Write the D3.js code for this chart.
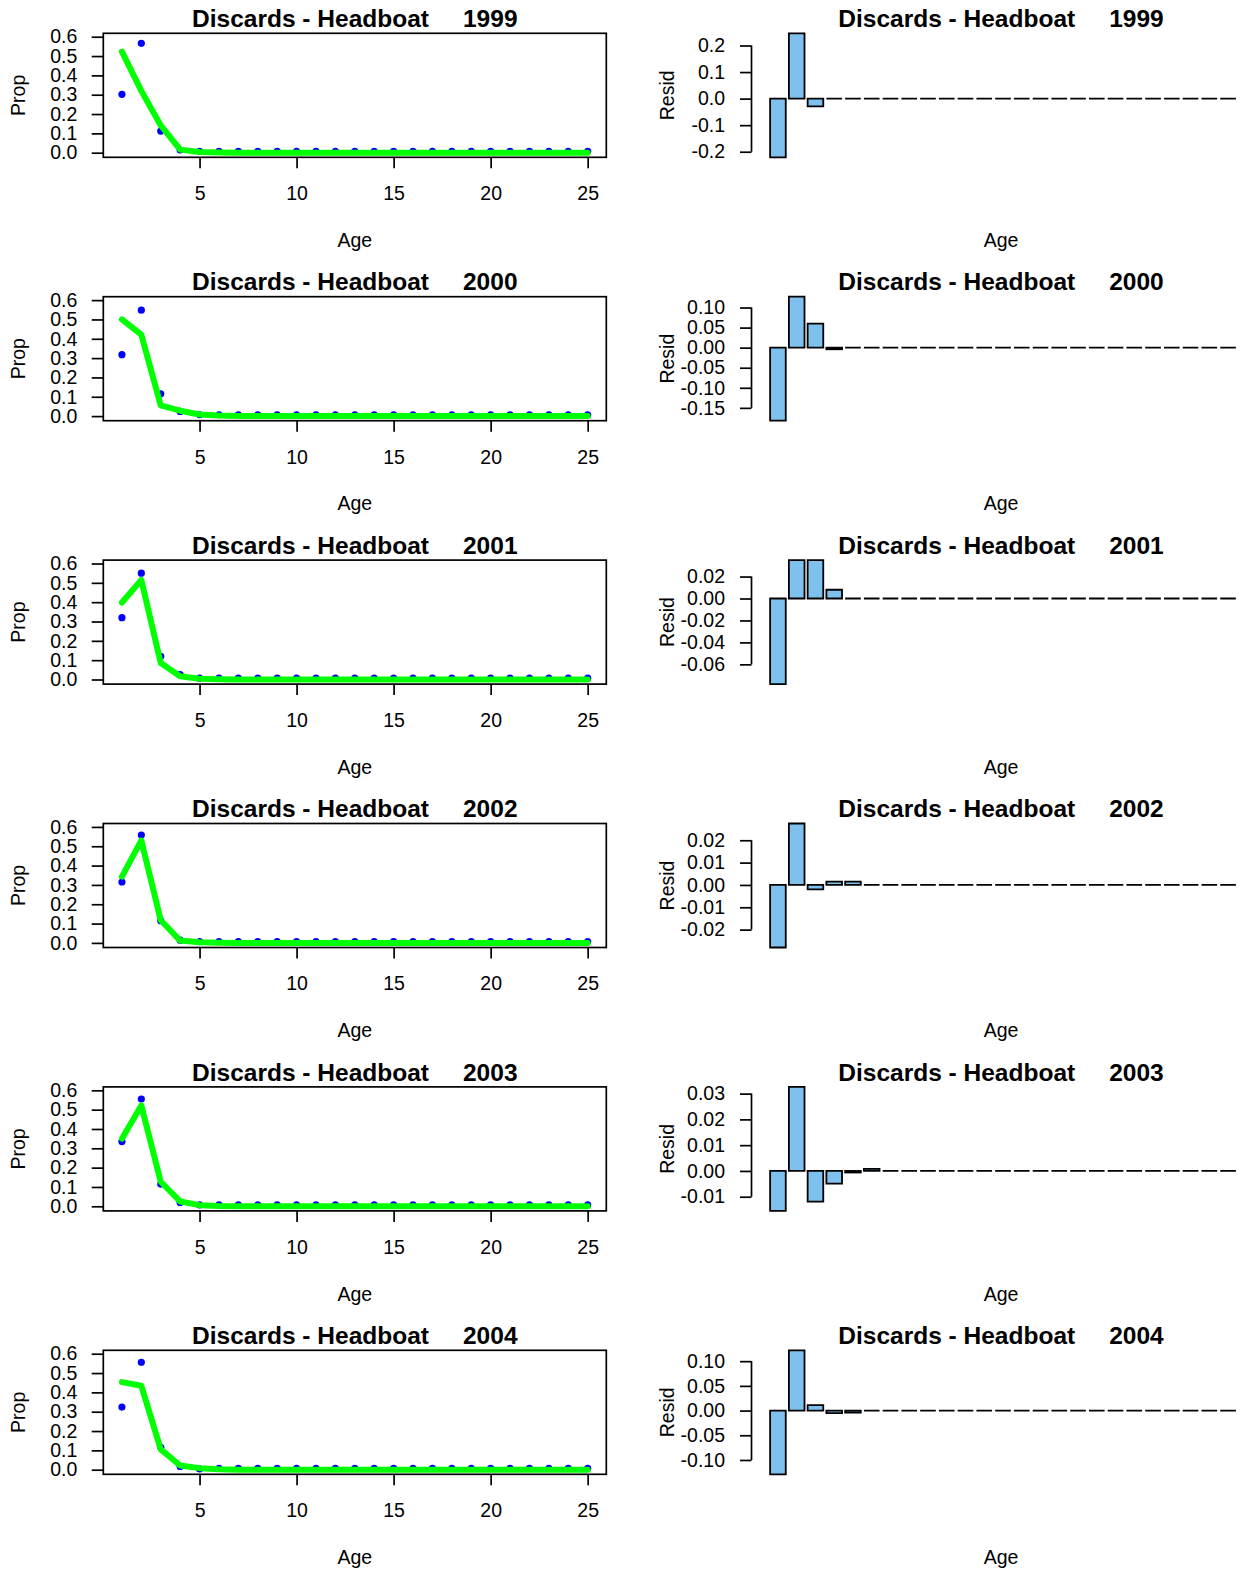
<!DOCTYPE html>
<html>
<head>
<meta charset="utf-8">
<script src="https://cdn.jsdelivr.net/npm/d3@7"></script>
<style>
  html, body { margin: 0; padding: 0; background: #ffffff; }
  svg { display: block; }
  text { font-family: "Liberation Sans", Arial, sans-serif; fill: #000; }
</style>
</head>
<body>
<svg id="chart" width="1240" height="1572"></svg>
<script>
// ---------------- data ----------------
const ages = [1,2,3,4,5,6,7,8,9,10,11,12,13,14,15,16,17,18,19,20,21,22,23,24,25];
const years = [1999, 2000, 2001, 2002, 2003, 2004];

const obs1999  = [0.302,0.566,0.112,0.014,0.007,0.007,0.007,0.007,0.007,0.007,0.007,0.007,0.007,0.007,0.007,0.007,0.007,0.007,0.007,0.007,0.007,0.007,0.007,0.007,0.007];
const pred1999 = [0.523,0.320,0.141,0.016,0.004,0.001,0,0,0,0,0,0,0,0,0,0,0,0,0,0,0,0,0,0,0];
const resid1999 = [-0.221,0.246,-0.029,0,0,0,0,0,0,0,0,0,0,0,0,0,0,0,0,0,0,0,0,0,0];

const obs2000  = [0.318,0.548,0.115,0.024,0.007,0.007,0.007,0.007,0.007,0.007,0.007,0.007,0.007,0.007,0.007,0.007,0.007,0.007,0.007,0.007,0.007,0.007,0.007,0.007,0.007];
const pred2000 = [0.500,0.421,0.055,0.028,0.008,0.003,0.001,0,0,0,0,0,0,0,0,0,0,0,0,0,0,0,0,0,0];
const resid2000 = [-0.182,0.127,0.060,-0.004,0,0,0,0,0,0,0,0,0,0,0,0,0,0,0,0,0,0,0,0,0];

const obs2001  = [0.320,0.550,0.120,0.025,0.007,0.007,0.007,0.007,0.007,0.007,0.007,0.007,0.007,0.007,0.007,0.007,0.007,0.007,0.007,0.007,0.007,0.007,0.007,0.007,0.007];
const pred2001 = [0.398,0.515,0.085,0.017,0.004,0.001,0,0,0,0,0,0,0,0,0,0,0,0,0,0,0,0,0,0,0];
const resid2001 = [-0.078,0.035,0.035,0.008,0,0,0,0,0,0,0,0,0,0,0,0,0,0,0,0,0,0,0,0,0];

const obs2002  = [0.315,0.558,0.115,0.014,0.007,0.007,0.007,0.007,0.007,0.007,0.007,0.007,0.007,0.007,0.007,0.007,0.007,0.007,0.007,0.007,0.007,0.007,0.007,0.007,0.007];
const pred2002 = [0.343,0.530,0.117,0.012,0.003,0.001,0,0,0,0,0,0,0,0,0,0,0,0,0,0,0,0,0,0,0];
const resid2002 = [-0.028,0.0275,-0.002,0.0015,0.0015,0,0,0,0,0,0,0,0,0,0,0,0,0,0,0,0,0,0,0,0];

const obs2003  = [0.335,0.555,0.115,0.020,0.007,0.007,0.007,0.007,0.007,0.007,0.007,0.007,0.007,0.007,0.007,0.007,0.007,0.007,0.007,0.007,0.007,0.007,0.007,0.007,0.007];
const pred2003 = [0.350,0.522,0.127,0.025,0.006,0.001,0,0,0,0,0,0,0,0,0,0,0,0,0,0,0,0,0,0,0];
const resid2003 = [-0.0155,0.0326,-0.0119,-0.0049,-0.0006,0.0008,0,0,0,0,0,0,0,0,0,0,0,0,0,0,0,0,0,0,0];

const obs2004  = [0.324,0.556,0.116,0.017,0.004,0.007,0.007,0.007,0.007,0.007,0.007,0.007,0.007,0.007,0.007,0.007,0.007,0.007,0.007,0.007,0.007,0.007,0.007,0.007,0.007];
const pred2004 = [0.453,0.434,0.105,0.022,0.008,0.002,0,0,0,0,0,0,0,0,0,0,0,0,0,0,0,0,0,0,0];
const resid2004 = [-0.129,0.122,0.011,-0.005,-0.004,0,0,0,0,0,0,0,0,0,0,0,0,0,0,0,0,0,0,0,0];

const propTicks = ["0.0","0.1","0.2","0.3","0.4","0.5","0.6"];
const ageTicks = ["5","10","15","20","25"];
const residTicks1999 = ["-0.2","-0.1","0.0","0.1","0.2"];
const residTicks2000 = ["-0.15","-0.10","-0.05","0.00","0.05","0.10"];
const residTicks2001 = ["-0.06","-0.04","-0.02","0.00","0.02"];
const residTicks2002 = ["-0.02","-0.01","0.00","0.01","0.02"];
const residTicks2003 = ["-0.01","0.00","0.01","0.02","0.03"];
const residTicks2004 = ["-0.10","-0.05","0.00","0.05","0.10"];

const panels = [
  {year: 1999, obs: obs1999, pred: pred1999, resid: resid1999, rticks: residTicks1999},
  {year: 2000, obs: obs2000, pred: pred2000, resid: resid2000, rticks: residTicks2000},
  {year: 2001, obs: obs2001, pred: pred2001, resid: resid2001, rticks: residTicks2001},
  {year: 2002, obs: obs2002, pred: pred2002, resid: resid2002, rticks: residTicks2002},
  {year: 2003, obs: obs2003, pred: pred2003, resid: resid2003, rticks: residTicks2003},
  {year: 2004, obs: obs2004, pred: pred2004, resid: resid2004, rticks: residTicks2004}
];

// ---------------- layout ----------------
const svg = d3.select("#chart");
const rowPitch = 263.4;
const plotTop = 33.3, plotBot = 157.3;
const L = {x0: 103.3, x1: 606.3};
const R = {x0: 751.5, x1: 1254.5};
const AX = 1.7;
const fontSize = 19.5, titleSize = 24.5;
const titleBase = 27, xLabBase = 247;

function styleAxis(g) {
  g.select(".domain").remove();
  g.selectAll(".tick line").attr("stroke", "#000").attr("stroke-width", AX);
  g.selectAll(".tick text").attr("font-size", fontSize).attr("fill", "#000")
    .style("font-family", '"Liberation Sans", Arial, sans-serif');
}

function title(g, cx, yr) {
  g.append("text")
    .attr("x", cx).attr("y", titleBase)
    .attr("text-anchor", "middle")
    .attr("font-size", titleSize).attr("font-weight", "bold")
    .attr("xml:space", "preserve").style("white-space", "pre")
    .text("Discards - Headboat     " + yr);
}

panels.forEach((p, i) => {
  const g = svg.append("g").attr("transform", `translate(0,${i * rowPitch})`);

  // ---------- left: Prop vs Age ----------
  const x = d3.scaleLinear().domain([0.04, 25.96]).range([L.x0, L.x1]);
  const y = d3.scaleLinear().domain([-0.0238, 0.6177]).range([plotBot, plotTop]);

  g.append("g").attr("transform", `translate(${L.x0},0)`)
    .call(d3.axisLeft(y).tickValues(propTicks.map(Number)).tickFormat((d, j) => propTicks[j])
      .tickSize(11.6).tickPadding(14.4))
    .call(styleAxis);

  g.append("g").attr("transform", `translate(0,${plotBot})`)
    .call(d3.axisBottom(x).tickValues(ageTicks.map(Number)).tickFormat((d, j) => ageTicks[j])
      .tickSize(11).tickPadding(18))
    .call(styleAxis);

  // points first, then predicted line on top
  g.append("g").selectAll("circle").data(ages).join("circle")
    .attr("cx", a => x(a)).attr("cy", (a, j) => y(p.obs[j]))
    .attr("r", 3.6).attr("fill", "#0000ff");

  const line = d3.line().x(a => x(a)).y((a, j) => y(p.pred[j]));
  g.append("path").datum(ages).attr("d", line)
    .attr("fill", "none").attr("stroke", "#00ff00").attr("stroke-width", 6)
    .attr("stroke-linejoin", "round").attr("stroke-linecap", "round");

  g.append("rect").attr("x", L.x0).attr("y", plotTop)
    .attr("width", L.x1 - L.x0).attr("height", plotBot - plotTop)
    .attr("fill", "none").attr("stroke", "#000").attr("stroke-width", AX);

  title(g, (L.x0 + L.x1) / 2, p.year);
  g.append("text").attr("x", (L.x0 + L.x1) / 2).attr("y", xLabBase)
    .attr("text-anchor", "middle").attr("font-size", fontSize).text("Age");
  g.append("text").attr("transform", `translate(25,${(plotTop + plotBot) / 2}) rotate(-90)`)
    .attr("text-anchor", "middle").attr("font-size", fontSize).text("Prop");

  // ---------- right: residual bars ----------
  const xr = d3.scaleLinear().domain([-0.992, 31.192]).range([R.x0, R.x1]);
  const yr = d3.scaleLinear().domain(d3.extent(p.resid)).range([plotBot, plotTop]);
  const rt = p.rticks.map(Number);

  const ax = g.append("g").attr("transform", `translate(${R.x0},0)`)
    .call(d3.axisLeft(yr).tickValues(rt).tickFormat((d, j) => p.rticks[j])
      .tickSize(11.5).tickPadding(15))
    .call(styleAxis);
  ax.append("line").attr("x1", 0).attr("x2", 0)
    .attr("y1", yr(d3.min(rt))).attr("y2", yr(d3.max(rt)))
    .attr("stroke", "#000").attr("stroke-width", AX);

  g.append("g").selectAll("path").data(ages).join("path")
    .attr("d", (a, j) => {
      const l = xr(0.2 + 1.2 * j), r = xr(1.2 + 1.2 * j);
      const y0 = yr(0), y1 = yr(p.resid[j]);
      return `M${l},${y0}H${r}V${y1}H${l}Z`;
    })
    .attr("fill", "#7ec0ee").attr("stroke", "#000").attr("stroke-width", 1.8);

  title(g, 1001, p.year);
  g.append("text").attr("x", 1001).attr("y", xLabBase)
    .attr("text-anchor", "middle").attr("font-size", fontSize).text("Age");
  g.append("text").attr("transform", `translate(674,${(plotTop + plotBot) / 2}) rotate(-90)`)
    .attr("text-anchor", "middle").attr("font-size", fontSize).text("Resid");
});
</script>
</body>
</html>
